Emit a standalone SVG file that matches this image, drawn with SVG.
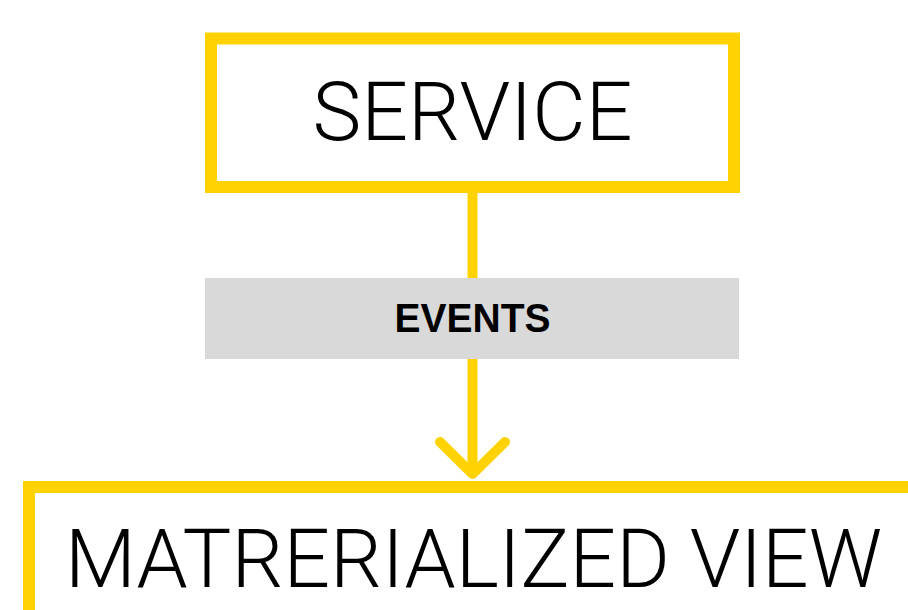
<svg xmlns="http://www.w3.org/2000/svg" width="908" height="610" viewBox="0 0 908 610">
  <style>
    .box { fill: #ffffff; stroke: #ffd200; stroke-width: 12; }
    .title { font-family: "Helvetica Neue", Roboto, "Liberation Sans", sans-serif; font-weight: 300; font-size: 81px; fill: #000000; }
    .tag { fill: #d9d9d9; }
    .tagtext { font-family: "Liberation Sans", Arial, sans-serif; font-weight: bold; font-size: 40px; fill: #000000; }
    .flow { fill: none; stroke: #ffd200; stroke-width: 10; stroke-linecap: round; stroke-linejoin: round; }
  </style>
  <rect width="908" height="610" fill="#ffffff"/>

  <!-- connectors -->
  <g id="connectors">
    <line class="flow" x1="472.5" y1="193" x2="472.5" y2="472" style="stroke-linecap:butt"/>
    <polyline class="flow" points="440,442 472.5,474 505,442"/>
    <g id="label-events">
      <rect class="tag" x="205" y="278" width="534" height="81"/>
      <text class="tagtext" x="472.5" y="331.5" text-anchor="middle" textLength="156" lengthAdjust="spacingAndGlyphs">EVENTS</text>
    </g>
  </g>

  <!-- source node -->
  <g id="node-service">
    <rect class="box" x="211" y="38.5" width="523" height="148.5"/>
    <text class="title" x="472.5" y="140" text-anchor="middle" textLength="320" lengthAdjust="spacingAndGlyphs">SERVICE</text>
  </g>

  <!-- target node, runs past the right and bottom edges -->
  <g id="node-materialized-view">
    <rect class="box" x="29" y="487" width="900" height="160"/>
    <text class="title" x="65" y="587" textLength="817" lengthAdjust="spacingAndGlyphs">MATRERIALIZED VIEW</text>
  </g>
</svg>
